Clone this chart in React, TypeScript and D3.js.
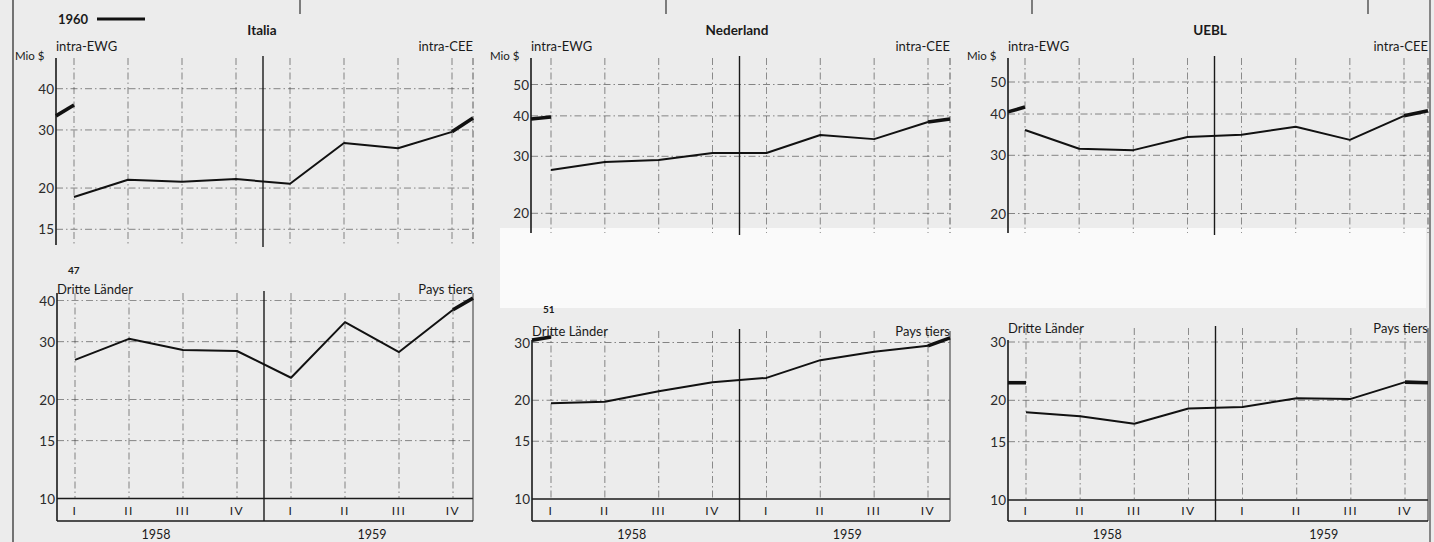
import React from "react";
import * as d3 from "d3";

const quarterLabels = ["I", "II", "III", "IV", "I", "II", "III", "IV"];
const yearLabels = ["1958", "1959"];
const countryTitles = ["Italia", "Nederland", "UEBL"];

const ticksItaliaTop = [15, 20, 30, 40];
const ticksOtherTop = [20, 30, 40, 50];
const ticksItaliaBottom = [10, 15, 20, 30, 40];
const ticksOtherBottom = [10, 15, 20, 30];

// intra-EWG / intra-CEE (Mio $), quarterly 1958-1959
const italiaIntra = [18.8, 21.2, 20.9, 21.3, 20.6, 27.4, 26.4, 29.6];
const italiaIntra1960Start = [33.1, 35.7];
const italiaIntra1960End = [29.6, 32.6];
const nederlandIntra = [27.2, 28.8, 29.2, 30.7, 30.7, 34.9, 33.9, 38.3];
const nederlandIntra1960Start = [39.1, 39.7];
const nederlandIntra1960End = [38.3, 39.1];
const ueblIntra = [35.8, 31.4, 31.1, 34.1, 34.6, 36.6, 33.4, 39.5];
const ueblIntra1960Start = [40.6, 42.0];
const ueblIntra1960End = [39.5, 40.9];

// Dritte Länder / Pays tiers
const italiaThird = [26.4, 30.6, 28.3, 28.1, 23.3, 34.4, 27.9, 37.5];
const italiaThird1960End = [37.5, 40.7];
const nederlandThird = [19.6, 19.8, 21.3, 22.7, 23.4, 26.5, 28.1, 29.3];
const nederlandThird1960Start = [30.5, 31.2];
const nederlandThird1960End = [29.3, 31.0];
const ueblThird = [18.4, 17.9, 17.0, 18.9, 19.1, 20.3, 20.2, 22.7];
const ueblThird1960Start = [22.6, 22.6];
const ueblThird1960End = [22.7, 22.6];

const FONT = "Lato, 'Open Sans', sans-serif";
const INK = "#1a1a1a";

type Cfg = {
  axisX: number; q0: number; q7: number; rightX: number;
  yTop: number; gridTop: number; yBot: number;
  anchorVals: [number, number]; anchorPx: [number, number];
  ticks: number[];
  values: number[];
  start?: number[]; end?: number[];
  bottom: boolean;
  leftLabel: string; rightLabel: string; labelY: number;
  mio?: boolean; note?: string; noteX?: number; noteY?: number;
};

function Panel({ c }: { c: Cfg }) {
  const x = d3.scaleLinear().domain([0, 7]).range([c.q0, c.q7]);
  const y = d3.scaleLog().domain(c.anchorVals).range(c.anchorPx);
  const axisIdx = x.invert(c.axisX);
  const rightIdx = x.invert(c.rightX);
  const line = d3.line<[number, number]>().x((d) => x(d[0])).y((d) => y(d[1]));
  const main = c.values.map((v, i) => [i, v] as [number, number]);
  const frameBot = c.bottom ? 521 : c.yBot;
  const divX = x(3.5);
  const gridStyle = { stroke: "#333", strokeWidth: 0.8, strokeDasharray: "7 3 1.5 3", opacity: 0.7 };
  return (
    <g>
      {c.ticks.map((t) => (
        <line key={"h" + t} x1={c.axisX} x2={c.rightX} y1={y(t)} y2={y(t)}
          {...(c.bottom && t === 10 ? { stroke: INK, strokeWidth: 1.4 } : gridStyle)} />
      ))}
      {quarterLabels.map((q, i) => (
        <line key={"v" + i} x1={x(i)} x2={x(i)} y1={c.gridTop} y2={c.bottom ? y(10) : c.yBot} {...gridStyle} />
      ))}
      <line x1={c.rightX} x2={c.rightX} y1={c.gridTop} y2={frameBot}
        stroke="#333" strokeWidth={c.bottom ? 1 : 0.8} strokeDasharray={c.bottom ? undefined : "7 3 1.5 3"} />
      <line x1={c.axisX} x2={c.axisX} y1={c.yTop} y2={frameBot} stroke={INK} strokeWidth={1.6} />
      <line x1={divX} x2={divX} y1={c.gridTop - 2} y2={frameBot + (c.bottom ? 0 : 2)} stroke={INK} strokeWidth={1.4} />
      {c.bottom && (
        <g>
          <line x1={c.axisX} x2={c.rightX} y1={frameBot} y2={frameBot} stroke={INK} strokeWidth={1.4} />
          {quarterLabels.map((q, i) => (
            <text key={"q" + i} x={x(i)} y={515} textAnchor="middle" fontSize={12} fontFamily={FONT} fill={INK}
              letterSpacing={1.5}>{q}</text>
          ))}
          {yearLabels.map((yr, k) => (
            <text key={yr} x={x(1.5 + 4 * k)} y={539} textAnchor="middle" fontSize={12.5} fontFamily={FONT} fill={INK}>{yr}</text>
          ))}
        </g>
      )}
      {c.ticks.map((t) => (
        <text key={"t" + t} x={c.axisX - 2} y={y(t) + 5} textAnchor="end" fontSize={13.5} fontFamily={FONT} fill="#2a2a2a">{t}</text>
      ))}
      {c.mio && (
        <text x={c.axisX - 41} y={c.yTop + 2} fontSize={11.5} fontFamily={FONT} fill={INK}>Mio $</text>
      )}
      <text x={c.axisX} y={c.labelY} fontSize={13} fontFamily={FONT} fill={INK}>{c.leftLabel}</text>
      <text x={c.rightX} y={c.labelY} textAnchor="end" fontSize={13} fontFamily={FONT} fill={INK}>{c.rightLabel}</text>
      {c.note && (
        <text x={c.noteX} y={c.noteY} fontSize={10} fontWeight="bold" fontFamily={FONT} fill={INK}>{c.note}</text>
      )}
      <path d={line(main) || ""} fill="none" stroke="#111" strokeWidth={2} strokeLinejoin="round" />
      {c.start && (
        <path d={line([[axisIdx, c.start[0]], [0, c.start[1]]]) || ""} fill="none" stroke="#111" strokeWidth={3.6} />
      )}
      {c.end && (
        <path d={line([[7, c.end[0]], [rightIdx, c.end[1]]]) || ""} fill="none" stroke="#111" strokeWidth={3.6} />
      )}
    </g>
  );
}

export default function App() {
  const top = { yTop: 58, gridTop: 58, bottom: false, leftLabel: "intra-EWG", rightLabel: "intra-CEE", labelY: 51, mio: true };
  const bot = { bottom: true, leftLabel: "Dritte Länder", rightLabel: "Pays tiers" };
  const panels: Cfg[] = [
    { ...top, axisX: 56, q0: 74, q7: 452, rightX: 473, yBot: 245, anchorVals: [15, 40], anchorPx: [229.3, 88.7],
      ticks: ticksItaliaTop, values: italiaIntra, start: italiaIntra1960Start, end: italiaIntra1960End },
    { ...top, axisX: 531, q0: 551, q7: 928, rightX: 950, yBot: 233, anchorVals: [20, 50], anchorPx: [213.3, 84.5],
      ticks: ticksOtherTop, values: nederlandIntra, start: nederlandIntra1960Start, end: nederlandIntra1960End },
    { ...top, axisX: 1008, q0: 1025, q7: 1404, rightX: 1428, yBot: 233, anchorVals: [20, 50], anchorPx: [213.5, 82],
      ticks: ticksOtherTop, values: ueblIntra, start: ueblIntra1960Start, end: ueblIntra1960End },
    { ...bot, axisX: 57, q0: 75, q7: 453, rightX: 473, yTop: 293, gridTop: 293, yBot: 498, anchorVals: [10, 40],
      anchorPx: [498.5, 300.6], ticks: ticksItaliaBottom, values: italiaThird, end: italiaThird1960End, labelY: 294,
      note: "47", noteX: 68, noteY: 274 },
    { ...bot, axisX: 532, q0: 551, q7: 928, rightX: 950, yTop: 340, gridTop: 331, yBot: 498, anchorVals: [10, 30],
      anchorPx: [499, 342.5], ticks: ticksOtherBottom, values: nederlandThird, start: nederlandThird1960Start,
      end: nederlandThird1960End, labelY: 336, note: "51", noteX: 543, noteY: 313 },
    { ...bot, axisX: 1008, q0: 1026, q7: 1405, rightX: 1428, yTop: 340, gridTop: 328, yBot: 498, anchorVals: [10, 30],
      anchorPx: [500, 342], ticks: ticksOtherBottom, values: ueblThird, start: ueblThird1960Start,
      end: ueblThird1960End, labelY: 333 },
  ];
  const titleX = [262, 737, 1210];
  return (
    <svg width={1434} height={542} style={{ position: "absolute", left: 0, top: 0, background: "#ececec" }}>
      <rect x={0} y={0} width={1434} height={542} fill="#ececec" />
      <rect x={500} y={228} width={926} height={80} fill="#fafafa" />
      <line x1={13} x2={13} y1={0} y2={542} stroke="#222" strokeWidth={1.2} />
      <line x1={1430} x2={1430} y1={0} y2={542} stroke="#444" strokeWidth={1.2} />
      {[300, 666, 1032, 1368].map((mx) => (
        <line key={mx} x1={mx} x2={mx} y1={0} y2={14} stroke="#333" strokeWidth={1.2} />
      ))}
      <text x={58} y={24} fontSize={13} fontWeight="bold" fontFamily={FONT} fill={INK}>1960</text>
      <line x1={97} x2={145} y1={19} y2={19} stroke="#111" strokeWidth={3} />
      {countryTitles.map((t, i) => (
        <text key={t} x={titleX[i]} y={35} textAnchor="middle" fontSize={13.5} fontWeight="bold" fontFamily={FONT} fill={INK}>{t}</text>
      ))}
      {panels.map((c, i) => <Panel key={i} c={c} />)}
    </svg>
  );
}
